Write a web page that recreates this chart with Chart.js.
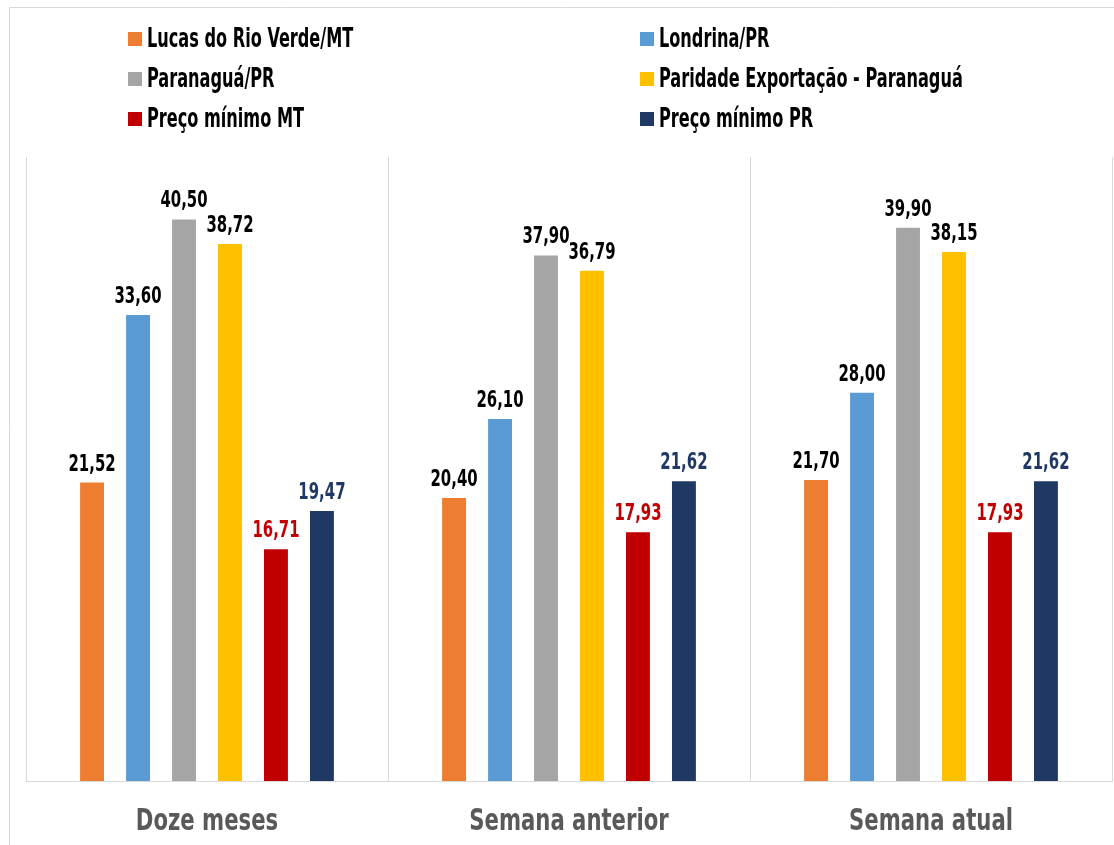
<!DOCTYPE html>
<html>
<head>
<meta charset="utf-8">
<script src="https://cdn.jsdelivr.net/npm/chart.js@4/dist/chart.umd.min.js"></script>
<style>
  html, body { margin: 0; padding: 0; background: #fff; }
  #wrap { position: relative; width: 1114px; height: 845px; }
</style>
</head>
<body>
<div id="wrap"><canvas id="c" width="1114" height="845"></canvas></div>
<script>
const categories = ['Doze meses', 'Semana anterior', 'Semana atual'];
const seriesNames = ['Lucas do Rio Verde/MT', 'Londrina/PR', 'Paranaguá/PR', 'Paridade Exportação - Paranaguá', 'Preço mínimo MT', 'Preço mínimo PR'];
const lucasRioVerde = [21.52, 20.40, 21.70];
const londrina = [33.60, 26.10, 28.00];
const paranagua = [40.50, 37.90, 39.90];
const paridadeExportacao = [38.72, 36.79, 38.15];
const precoMinimoMT = [16.71, 17.93, 17.93];
const precoMinimoPR = [19.47, 21.62, 21.62];
const seriesColors = ['#ED7D31', '#5B9BD5', '#A5A5A5', '#FFC000', '#C00000', '#203864'];
const labelColors = ['#000000', '#000000', '#000000', '#000000', '#C00000', '#203864'];

const allSeries = [lucasRioVerde, londrina, paranagua, paridadeExportacao, precoMinimoMT, precoMinimoPR];
const COND = '"DejaVu Sans Condensed", "DejaVu Sans", sans-serif';

const datasets = allSeries.map((vals, i) => ({
  label: seriesNames[i],
  data: vals,
  backgroundColor: seriesColors[i],
  borderWidth: 0,
  categoryPercentage: 0.762,
  barPercentage: 0.52
}));

// draw text horizontally compressed (narrow display face look)
function drawNarrow(ctx, text, x, y, sx, align) {
  ctx.save();
  ctx.translate(x, y);
  ctx.scale(sx, 1);
  ctx.textAlign = align;
  ctx.fillText(text, 0, 0);
  ctx.restore();
}

const framePlugin = {
  id: 'frame',
  beforeDraw(chart) {
    const ctx = chart.ctx;
    ctx.save();
    ctx.strokeStyle = '#D9D9D9';
    ctx.lineWidth = 1;
    ctx.beginPath();
    ctx.moveTo(9.5, 845);
    ctx.lineTo(9.5, 7.5);
    ctx.lineTo(1114, 7.5);
    ctx.stroke();
    ctx.restore();
  }
};

const legendPlugin = {
  id: 'customLegend',
  afterDraw(chart) {
    const ctx = chart.ctx;
    const colX = [128, 640];
    const rowY = [39, 79, 119];
    ctx.save();
    ctx.font = 'bold 26px ' + COND;
    ctx.textBaseline = 'middle';
    chart.data.datasets.forEach((ds, i) => {
      const x = colX[i % 2];
      const y = rowY[Math.floor(i / 2)];
      ctx.fillStyle = ds.backgroundColor;
      ctx.fillRect(x, y - 7, 14, 14);
      ctx.fillStyle = '#000000';
      drawNarrow(ctx, ds.label, x + 19, y + 1, 0.69, 'left');
    });
    ctx.restore();
  }
};

const categoryLabelPlugin = {
  id: 'categoryLabels',
  afterDraw(chart) {
    const ctx = chart.ctx;
    const xs = chart.scales.x;
    ctx.save();
    ctx.font = 'bold 31px ' + COND;
    ctx.textBaseline = 'middle';
    ctx.fillStyle = '#595959';
    chart.data.labels.forEach((lab, i) => {
      drawNarrow(ctx, lab, xs.getPixelForValue(i), 822, 0.76, 'center');
    });
    ctx.restore();
  }
};

const valueLabelPlugin = {
  id: 'valueLabels',
  afterDatasetsDraw(chart) {
    const ctx = chart.ctx;
    ctx.save();
    ctx.font = 'bold 23px ' + COND;
    ctx.textBaseline = 'alphabetic';
    chart.data.datasets.forEach((ds, i) => {
      const meta = chart.getDatasetMeta(i);
      meta.data.forEach((bar, j) => {
        const v = ds.data[j];
        ctx.fillStyle = labelColors[i];
        drawNarrow(ctx, v.toFixed(2).replace('.', ','), bar.x, bar.y - 12, 0.72, 'center');
      });
    });
    ctx.restore();
  }
};

new Chart(document.getElementById('c'), {
  type: 'bar',
  data: { labels: categories, datasets },
  options: {
    responsive: false,
    animation: false,
    devicePixelRatio: 1,
    layout: { padding: { left: 26, right: 2, top: 157, bottom: 0 } },
    plugins: {
      legend: { display: false },
      tooltip: { enabled: false }
    },
    scales: {
      x: {
        grid: { display: true, offset: true, color: '#D9D9D9', lineWidth: 1, drawTicks: false },
        border: { display: true, color: '#D9D9D9', width: 1 },
        ticks: { display: false },
        afterFit(scale) { scale.height = 64; }
      },
      y: {
        display: false,
        min: 0,
        max: 45
      }
    }
  },
  plugins: [framePlugin, legendPlugin, categoryLabelPlugin, valueLabelPlugin]
});
</script>
</body>
</html>
